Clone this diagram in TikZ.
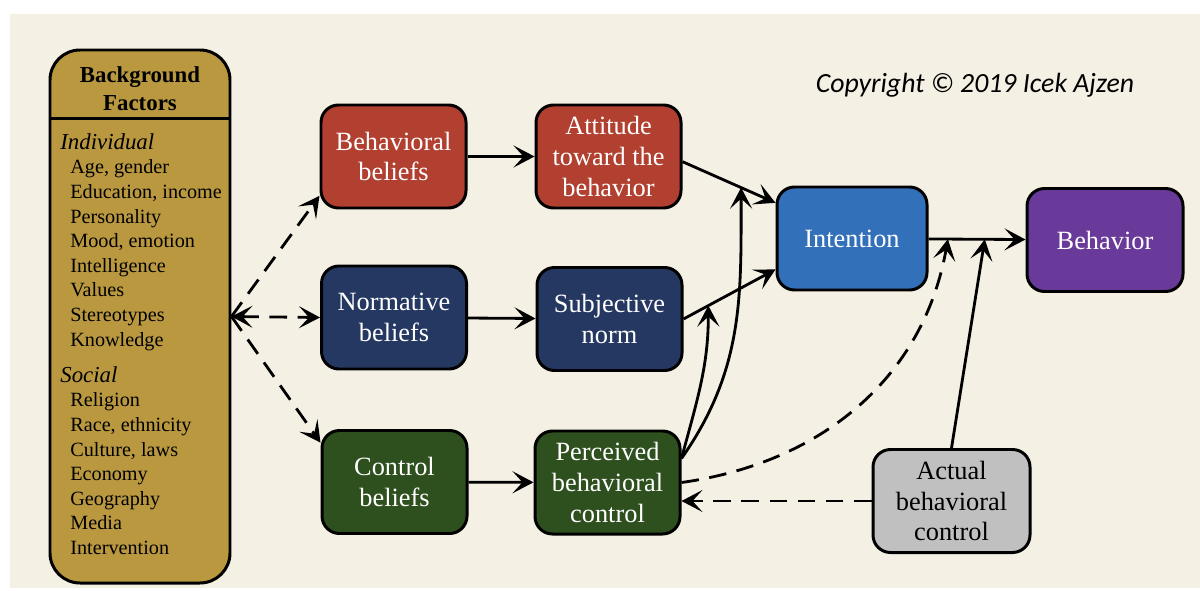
\documentclass[tikz,border=0pt]{standalone}
\usepackage{fontspec}
\setmainfont{Liberation Serif}
\newfontfamily\copyfont{Carlito}
\usetikzlibrary{shapes,arrows.meta,positioning,calc}

\definecolor{paper}{RGB}{245,240,228}
\definecolor{bgfill}{RGB}{185,152,64}
\definecolor{attred}{RGB}{177,64,48}
\definecolor{normblue}{RGB}{37,56,98}
\definecolor{ctrlgreen}{RGB}{46,80,30}
\definecolor{intblue}{RGB}{50,112,185}
\definecolor{behpurple}{RGB}{106,58,154}
\definecolor{actgray}{RGB}{192,192,192}

\begin{document}
\begin{tikzpicture}[
    >={Stealth[length=4.2mm,width=4.4mm,inset=2mm]},
    box/.style = {rectangle, draw, line width=1.7pt, rounded corners=0.35cm, minimum width=2.9cm, minimum height=2.06cm, align=center, text=white, font=\fontsize{15}{17.5}\selectfont},
    arr/.style = {->, line width=1.6pt},
    dasharr/.style = {arr, dash pattern=on 10pt off 6pt}
]
    % Page and paper
    \useasboundingbox (0,0) rectangle (24,11.8);
    \fill[white] (0,0) rectangle (24,11.8);
    \fill[paper] (0.2,0.04) rectangle (24,11.52);

    % Background factors
    \node[box, fill=bgfill, minimum width=3.6cm, minimum height=10.66cm, rounded corners=0.6cm] (bg) at (2.8,5.47) {};
    \draw[line width=1.7pt] ($(bg.north west)+(0,-1.4)$) -- ($(bg.north east)+(0,-1.4)$);
    \node[font=\fontsize{13}{16}\selectfont\bfseries, align=center] (bgtitle) at (2.8,10.02) {Background\\Factors};
    \node[anchor=north west, inner sep=0, align=left, font=\fontsize{11.5}{14}\selectfont] (indiv) at (1.2,9.14) {{\fontsize{13}{14}\selectfont\itshape Individual}\\
        \hspace*{0.2cm}Age, gender\\ \hspace*{0.2cm}Education, income\\ \hspace*{0.2cm}Personality\\
        \hspace*{0.2cm}Mood, emotion\\ \hspace*{0.2cm}Intelligence\\ \hspace*{0.2cm}Values\\
        \hspace*{0.2cm}Stereotypes\\ \hspace*{0.2cm}Knowledge};
    \node[anchor=north west, inner sep=0, align=left, font=\fontsize{11.5}{14}\selectfont] (social) at (1.2,4.48) {{\fontsize{13}{14}\selectfont\itshape Social}\\
        \hspace*{0.2cm}Religion\\ \hspace*{0.2cm}Race, ethnicity\\ \hspace*{0.2cm}Culture, laws\\
        \hspace*{0.2cm}Economy\\ \hspace*{0.2cm}Geography\\ \hspace*{0.2cm}Media\\
        \hspace*{0.2cm}Intervention};

    % Beliefs and determinants
    \node[box, fill=attred] (bb) at (7.87,8.67) {Behavioral\\beliefs};
    \node[box, fill=attred] (att) at (12.17,8.67) {Attitude\\toward the\\behavior};
    \node[box, fill=normblue] (nb) at (7.88,5.45) {Normative\\beliefs};
    \node[box, fill=normblue] (sn) at (12.19,5.42) {Subjective\\norm};
    \node[box, fill=ctrlgreen] (cb) at (7.89,2.16) {Control\\beliefs};
    \node[box, fill=ctrlgreen] (pbc) at (12.15,2.15) {Perceived\\behavioral\\control};

    % Intention, behavior, actual control
    \node[box, fill=intblue, minimum width=3cm] (int) at (17.04,7.03) {Intention};
    \node[box, fill=behpurple, minimum width=3.12cm] (beh) at (22.1,7.0) {Behavior};
    \node[box, fill=actgray, text=black, minimum width=3.14cm] (act) at (19.03,1.78) {Actual\\behavioral\\control};

    \node[font=\copyfont\itshape\fontsize{15.8}{17}\selectfont] (copy) at (19.5,10.1) {Copyright \textcopyright{} 2019 Icek Ajzen};

    % Dashed arrows from background factors
    \draw[dasharr] (bg.east) -- (bb.208);
    \draw[dasharr, <->] (bg.east) -- (nb.west);
    \draw[dasharr] (bg.east) -- (cb.152);

    % Beliefs to determinants
    \draw[arr] (bb) -- (att);
    \draw[arr] (nb) -- (sn);
    \draw[arr] (cb) -- (pbc);

    % Determinants to intention, intention to behavior
    \draw[arr] (att.-4) -- coordinate[pos=0.63] (c1) (int.155);
    \draw[arr] (sn.east) -- coordinate[pos=0.27] (c2) (int.202);
    \draw[arr] (int) -- coordinate[pos=0.2] (c3) coordinate[pos=0.58] (c4) (beh);

    % Perceived control moderating
    \draw[arr] (pbc.18) to[out=75, in=-90] (c2);
    \draw[arr] (pbc.18) to[out=55, in=-90] (c1);
    \draw[dasharr] (pbc.east) to[out=8, in=-100] (c3);

    % Actual control
    \draw[arr] (act.north) -- (c4);
    \draw[dasharr] (act.west) -- (act.west -| pbc.east);
\end{tikzpicture}
\end{document}
